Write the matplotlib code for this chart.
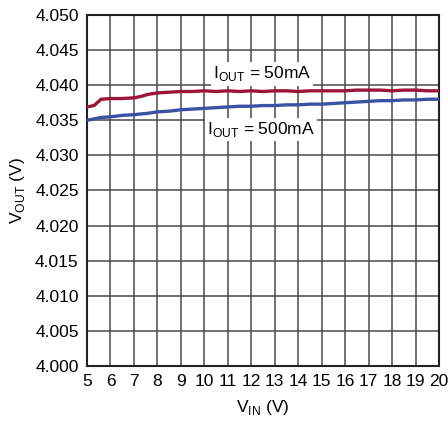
import matplotlib
matplotlib.use('Agg')
import matplotlib.pyplot as plt
from matplotlib.ticker import FormatStrFormatter

vin = [5, 5.3, 5.6, 6, 6.5, 7, 7.3, 7.6, 8, 8.5, 9, 9.5, 10, 10.5, 11, 11.5, 12,
       12.5, 13, 13.5, 14, 14.5, 15, 15.5, 16, 16.5, 17, 17.5, 18, 18.5, 19, 19.5, 20]
vout_50ma = [4.0369, 4.0371, 4.0380, 4.0381, 4.0381, 4.0382, 4.0384, 4.0387, 4.0389,
             4.0390, 4.0391, 4.0391, 4.0392, 4.0391, 4.0392, 4.0391, 4.0392, 4.0391,
             4.0392, 4.0392, 4.0391, 4.0392, 4.0392, 4.0392, 4.0392, 4.0393, 4.0393,
             4.0393, 4.0392, 4.0393, 4.0393, 4.0392, 4.0392]
vout_500ma = [4.0350, 4.0352, 4.0354, 4.0355, 4.0357, 4.0358, 4.0359, 4.0360, 4.0362,
              4.0363, 4.0365, 4.0366, 4.0367, 4.0368, 4.0369, 4.0370, 4.0370, 4.0371,
              4.0371, 4.0372, 4.0372, 4.0373, 4.0373, 4.0374, 4.0375, 4.0376, 4.0377,
              4.0378, 4.0378, 4.0379, 4.0379, 4.0380, 4.0380]
xticks = list(range(5, 21))
yticks = [4.000 + 0.005 * i for i in range(11)]

font = ['Liberation Sans', 'DejaVu Sans']
plt.rcParams['font.family'] = font
plt.rcParams['mathtext.fontset'] = 'custom'
plt.rcParams['mathtext.rm'] = font[0]

fig = plt.figure(figsize=(4.48, 4.22), dpi=100)
ax = fig.add_axes([87/448, 1 - 366/422, (439 - 87)/448, (366 - 15)/422])

ax.plot(vin, vout_50ma, color='#9b1538', lw=2.4, zorder=3)
ax.plot(vin, vout_500ma, color='#3a52a3', lw=2.4, zorder=3)

ax.set_xlim(5, 20)
ax.set_ylim(4.000, 4.050)
ax.set_xticks(xticks)
ax.set_yticks(yticks)
ax.yaxis.set_major_formatter(FormatStrFormatter('%.3f'))
ax.grid(True, color='#4a4a4a', lw=1.1)
ax.tick_params(length=0, labelsize=12.5, pad=6)
for s in ax.spines.values():
    s.set_linewidth(1.5)
    s.set_color('#222222')

ax.set_xlabel(r'V$_{\rm IN}$ (V)', fontsize=12.5, labelpad=6)
ax.set_ylabel(r'V$_{\rm OUT}$ (V)', fontsize=12.5, labelpad=6)

box = dict(facecolor='white', edgecolor='none', pad=1.5)
ax.text(12.45, 4.0416, r'I$_{\rm OUT}$ = 50mA', fontsize=12.5, ha='center', va='center',
        bbox=box, zorder=4)
ax.text(12.4, 4.0337, r'I$_{\rm OUT}$ = 500mA', fontsize=12.5, ha='center', va='center',
        bbox=box, zorder=4)

fig.savefig('out.png', dpi=100)
